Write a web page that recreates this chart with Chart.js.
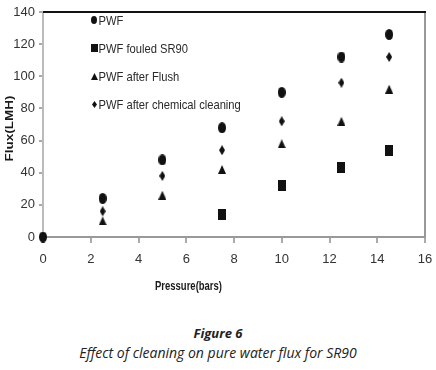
<!DOCTYPE html>
<html>
<head>
<meta charset="utf-8">
<script src="https://cdn.jsdelivr.net/npm/chart.js@4.4.1/dist/chart.umd.min.js"></script>
<style>
  body { margin: 0; background: #fff; }
  #wrap { position: relative; width: 436px; height: 300px; }
  .cap { width: 436px; text-align: center; font-family: "Open Sans", "Noto Sans", sans-serif; font-style: italic; color: #222; }
  #fig { font-weight: bold; font-size: 13px; margin-top: 24px; }
  #desc { font-size: 14px; margin-top: 1px; }
</style>
</head>
<body>
<div id="wrap"><canvas id="grafico" width="436" height="300"></canvas></div>
<div class="cap" id="fig">Figure 6</div>
<div class="cap" id="desc">Effect of cleaning on pure water flux for SR90</div>
<script>
const FUENTE = '"Liberation Sans", Arial, sans-serif';

// datos
const etiquetas = ["PWF", "PWF fouled SR90", "PWF after Flush", "PWF after chemical cleaning"];
const presionPWF = [0, 2.5, 5, 7.5, 10, 12.5, 14.5];
const fluxPWF = [0, 24, 48, 68, 90, 112, 126];
const presionFouled = [7.5, 10, 12.5, 14.5];
const fluxFouled = [14, 32, 43, 54];
const presionFlush = [2.5, 5, 7.5, 10, 12.5, 14.5];
const fluxFlush = [10, 26, 42, 58, 72, 92];
const presionQuimico = [2.5, 5, 7.5, 10, 12.5, 14.5];
const fluxQuimico = [16, 38, 54, 72, 96, 112];
const ticksX = [0, 2, 4, 6, 8, 10, 12, 14, 16];
const ticksY = [0, 20, 40, 60, 80, 100, 120, 140];
const tituloX = "Pressure(bars)";
const tituloY = "Flux(LMH)";

const puntos = (xs, ys) => xs.map((x, i) => ({x: x, y: ys[i]}));

// marcadores un poco angostos, como en la figura original
const hacerMarcador = (tipo, w, h) => {
    const c = document.createElement("canvas");
    c.width = w;
    c.height = h;
    const g = c.getContext("2d");
    g.fillStyle = "#111";
    g.beginPath();
    if (tipo === "circulo") {
        g.ellipse(w / 2, h / 2, w / 2, h / 2, 0, 0, Math.PI * 2);
    } else if (tipo === "cuadrado") {
        g.rect(0, 0, w, h);
    } else if (tipo === "triangulo") {
        g.moveTo(w / 2, 0);
        g.lineTo(w, h);
        g.lineTo(0, h);
        g.closePath();
    } else {
        g.moveTo(w / 2, 0);
        g.lineTo(w, h / 2);
        g.lineTo(w / 2, h);
        g.lineTo(0, h / 2);
        g.closePath();
    }
    g.fill();
    return c;
};

const marcadores = [
    hacerMarcador("circulo", 8, 11),
    hacerMarcador("cuadrado", 8, 11),
    hacerMarcador("triangulo", 8, 9),
    hacerMarcador("diamante", 6, 10)
];
const marcadoresLeyenda = [
    hacerMarcador("circulo", 6, 8),
    hacerMarcador("cuadrado", 7, 8),
    hacerMarcador("triangulo", 7, 7),
    hacerMarcador("diamante", 5, 7)
];

const serie = (label, data, i) => ({
    label: label,
    data: data,
    pointStyle: marcadores[i],
    pointRadius: 5,
    pointHoverRadius: 5,
    backgroundColor: "#111",
    borderColor: "#111",
    showLine: false,
    clip: false
});

// leyenda dentro del area del grafico
const leyenda = {
    id: "leyenda",
    afterDatasetsDraw(chart) {
        const ctx = chart.ctx;
        const area = chart.chartArea;
        ctx.save();
        chart.data.datasets.forEach((ds, i) => {
            const y = area.top + 8 + i * 28.3;
            const x = area.left + 51;
            const m = marcadoresLeyenda[i];
            ctx.drawImage(m, Math.round(x - m.width / 2), Math.round(y - m.height / 2));
            ctx.save();
            ctx.font = "13px " + FUENTE;
            ctx.fillStyle = "#2a2a2a";
            ctx.textBaseline = "middle";
            ctx.translate(x + 4.5, y + 1);
            ctx.scale(0.86, 1);
            ctx.fillText(ds.label, 0, 0);
            ctx.restore();
        });
        ctx.restore();
    }
};

// titulos de los ejes, angostos como en el original
const titulosEjes = {
    id: "titulosEjes",
    afterDraw(chart) {
        const ctx = chart.ctx;
        const a = chart.chartArea;
        ctx.save();
        ctx.fillStyle = "#1a1a1a";
        ctx.textAlign = "center";
        ctx.textBaseline = "middle";
        ctx.font = "bold 12px " + FUENTE;
        let w = ctx.measureText(tituloX).width;
        ctx.translate(a.left + 145.5, a.bottom + 50);
        ctx.scale(67 / w, 1);
        ctx.fillText(tituloX, 0, 0);
        ctx.restore();

        ctx.save();
        ctx.fillStyle = "#1a1a1a";
        ctx.textAlign = "center";
        ctx.textBaseline = "middle";
        ctx.font = "bold 11px " + FUENTE;
        w = ctx.measureText(tituloY).width;
        ctx.translate(10, a.top + 116.5);
        ctx.rotate(-Math.PI / 2);
        ctx.scale(66 / w, 1);
        ctx.fillText(tituloY, 0, 0);
        ctx.restore();
    }
};

// borde superior y derecho
const bordes = {
    id: "bordes",
    beforeDatasetsDraw(chart) {
        const ctx = chart.ctx;
        const a = chart.chartArea;
        ctx.save();
        ctx.strokeStyle = "#999";
        ctx.lineWidth = 2;
        ctx.beginPath();
        ctx.moveTo(a.right, a.top);
        ctx.lineTo(a.right, a.bottom);
        ctx.stroke();
        ctx.strokeStyle = "#111";
        ctx.beginPath();
        ctx.moveTo(a.left, a.top);
        ctx.lineTo(a.right + 1, a.top);
        ctx.stroke();
        ctx.restore();
    }
};

const ctx = document.getElementById("grafico").getContext("2d");

const grafico = new Chart(ctx, {
    type: "scatter",
    data: {
        datasets: [
            serie(etiquetas[0], puntos(presionPWF, fluxPWF), 0),
            serie(etiquetas[1], puntos(presionFouled, fluxFouled), 1),
            serie(etiquetas[2], puntos(presionFlush, fluxFlush), 2),
            serie(etiquetas[3], puntos(presionQuimico, fluxQuimico), 3)
        ]
    },
    options: {
        responsive: false,
        animation: false,
        layout: {autoPadding: false, padding: {top: 12, right: 11, left: 0, bottom: 0}},
        plugins: {
            legend: {display: false},
            tooltip: {enabled: false}
        },
        scales: {
            x: {
                type: "linear",
                min: 0,
                max: 16,
                afterBuildTicks: (eje) => { eje.ticks = ticksX.map(v => ({value: v})); },
                afterFit: (eje) => { eje.height = 63; },
                // el padding horizontal de los ticks achica el area, se baja la etiqueta con lineHeight
                ticks: {color: "#333", font: {family: FUENTE, size: 13, lineHeight: 2.6}, padding: 0},
                grid: {drawOnChartArea: false, drawTicks: true, tickLength: 6, color: "#aaa", lineWidth: 2},
                border: {color: "#999", width: 2},
                title: {display: false}
            },
            y: {
                min: 0,
                max: 140,
                afterBuildTicks: (eje) => { eje.ticks = ticksY.map(v => ({value: v})); },
                afterFit: (eje) => { eje.width = 43; },
                ticks: {color: "#333", font: {family: FUENTE, size: 13}, padding: 4},
                grid: {drawOnChartArea: false, drawTicks: true, tickLength: 4, color: "#aaa", lineWidth: 2},
                border: {color: "#bbb", width: 2},
                title: {display: false}
            }
        }
    },
    plugins: [bordes, leyenda, titulosEjes]
});
</script>
</body>
</html>
